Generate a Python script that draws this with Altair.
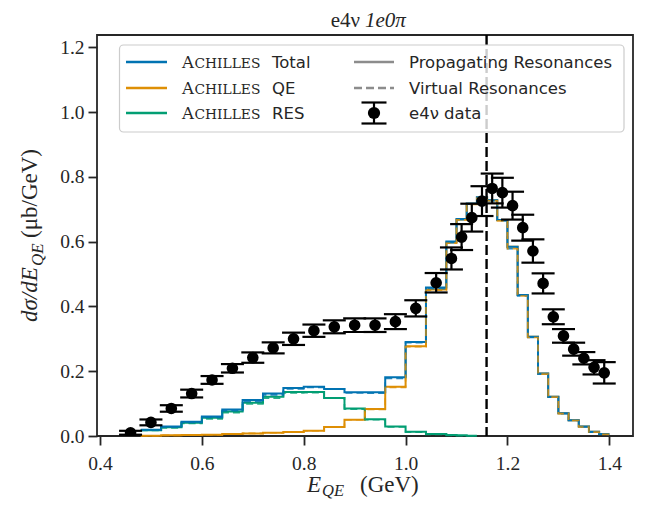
import altair as alt
import pandas as pd

# ---------------- data ----------------
bin_lo = [0.48, 0.52, 0.56, 0.60, 0.64, 0.68, 0.72, 0.76, 0.80, 0.84, 0.88, 0.92,
          0.96, 1.00, 1.04, 1.08, 1.10, 1.12, 1.14, 1.16, 1.18, 1.20, 1.22, 1.24,
          1.26, 1.28, 1.30, 1.32, 1.34, 1.36, 1.38]
bin_end = 1.40

total_prop = [0.019, 0.029, 0.044, 0.060, 0.082, 0.111, 0.131, 0.148, 0.152, 0.145, 0.135, 0.135,
              0.181, 0.290, 0.458, 0.600, 0.670, 0.718, 0.737, 0.728, 0.667, 0.584, 0.435, 0.306,
              0.193, 0.121, 0.070, 0.049, 0.029, 0.013, 0.006]
qe_prop = [0.001, 0.002, 0.003, 0.004, 0.006, 0.008, 0.010, 0.012, 0.016, 0.028, 0.050, 0.083,
           0.152, 0.277, 0.452, 0.597, 0.668, 0.717, 0.736, 0.728, 0.667, 0.584, 0.435, 0.306,
           0.193, 0.121, 0.070, 0.049, 0.029, 0.013, 0.006]
res_prop = [0.018, 0.027, 0.041, 0.056, 0.076, 0.103, 0.121, 0.136, 0.136, 0.117, 0.085, 0.052,
            0.029, 0.013, 0.006, 0.003, 0.002, 0.001]

total_virt = [0.018, 0.027, 0.042, 0.057, 0.078, 0.107, 0.127, 0.145, 0.150, 0.146, 0.133, 0.132,
              0.178, 0.288, 0.455, 0.597, 0.668, 0.716, 0.735, 0.726, 0.664, 0.578, 0.432, 0.304,
              0.191, 0.120, 0.069, 0.048, 0.028, 0.012, 0.005]
qe_virt = [0.001, 0.002, 0.003, 0.004, 0.006, 0.008, 0.010, 0.012, 0.016, 0.028, 0.050, 0.082,
           0.150, 0.276, 0.450, 0.595, 0.667, 0.715, 0.734, 0.726, 0.664, 0.578, 0.432, 0.304,
           0.191, 0.120, 0.069, 0.048, 0.028, 0.012, 0.005]
res_virt = [0.017, 0.025, 0.039, 0.053, 0.072, 0.099, 0.117, 0.133, 0.134, 0.118, 0.083, 0.050,
            0.028, 0.012, 0.005, 0.002, 0.001, 0.001]

data_x = [0.46, 0.50, 0.54, 0.58, 0.62, 0.66, 0.70, 0.74, 0.78, 0.82, 0.86, 0.90, 0.94, 0.98,
          1.02, 1.06, 1.09, 1.11, 1.13, 1.15, 1.17, 1.19, 1.21, 1.23, 1.25, 1.27, 1.29, 1.31,
          1.33, 1.35, 1.37, 1.39]
data_y = [0.010, 0.042, 0.085, 0.131, 0.173, 0.209, 0.242, 0.272, 0.300, 0.325, 0.337, 0.342,
          0.342, 0.353, 0.394, 0.473, 0.548, 0.614, 0.674, 0.725, 0.764, 0.751, 0.711, 0.643,
          0.571, 0.471, 0.368, 0.309, 0.268, 0.240, 0.212, 0.195]
data_err = [0.006, 0.009, 0.010, 0.012, 0.012, 0.013, 0.016, 0.017, 0.019, 0.019, 0.020, 0.021,
            0.021, 0.023, 0.025, 0.030, 0.034, 0.040, 0.043, 0.046, 0.046, 0.046, 0.043, 0.040,
            0.036, 0.031, 0.023, 0.021, 0.020, 0.019, 0.022, 0.033]

beam_energy = [1.159]

x_ticks = [0.4, 0.6, 0.8, 1.0, 1.2, 1.4]
y_ticks = [0.0, 0.2, 0.4, 0.6, 0.8, 1.0, 1.2]

title_main = "e4ν"
title_topo = "1e0π"
legend_sc_first = "A"
legend_sc_rest = "CHILLES"
legend_left = ["Total", "QE", "RES"]
legend_right = ["Propagating Resonances", "Virtual Resonances", "e4ν data"]

# ---------------- styling ----------------
BLUE = "#0173b2"
ORANGE = "#de8f05"
GREEN = "#029e73"
GRAY = "#8c8c8c"
DARK = "#262626"
SERIF = "Liberation Serif"
SANS = "DejaVu Sans"

x_scale = alt.Scale(domain=[0.3941, 1.4465], nice=False, zero=False)
y_scale = alt.Scale(domain=[0.0, 1.2377], nice=False, zero=False)

x_axis = alt.Axis(values=x_ticks, format=".1f", title=None, grid=False, domain=False,
                  tickSize=9, tickWidth=1.8, tickColor=DARK, labelFont=SERIF,
                  labelFontSize=19.5, labelColor=DARK, labelPadding=9, labelFlush=False,
                  labelOverlap=False)
y_axis = alt.Axis(values=y_ticks, format=".1f", title=None, grid=False, domain=False,
                  tickSize=9, tickWidth=1.8, tickColor=DARK, labelFont=SERIF,
                  labelFontSize=19.5, labelColor=DARK, labelPadding=4, labelOverlap=False)


def X(field):
    return alt.X(field, type="quantitative", scale=x_scale, axis=x_axis, title=None)


def Y(field):
    return alt.Y(field, type="quantitative", scale=y_scale, axis=y_axis, title=None)


def step_df(vals):
    n = len(vals)
    end = bin_lo[n] if n < len(bin_lo) else bin_end
    xs = bin_lo[:n] + [end]
    ys = list(vals) + [vals[-1]]
    return pd.DataFrame({"x": xs, "y": ys})


def step_layer(vals, color, dash=None, width=2.0, opacity=1.0):
    kw = dict(interpolate="step-after", color=color, strokeWidth=width, opacity=opacity)
    if dash:
        kw["strokeDash"] = dash
    return alt.Chart(step_df(vals)).mark_line(**kw).encode(x=X("x"), y=Y("y"))


layers = []
layers.append(step_layer(res_prop, GREEN))
layers.append(step_layer(qe_prop, ORANGE))
layers.append(step_layer(total_prop, BLUE))
layers.append(step_layer(res_virt, GREEN, dash=[7, 4], width=1.6, opacity=0.85))
layers.append(step_layer(total_virt, BLUE, dash=[7, 4], width=1.6, opacity=0.85))
layers.append(step_layer(qe_virt, ORANGE, dash=[7, 4], width=1.6, opacity=0.85))

# vertical beam-energy line
layers.append(alt.Chart(pd.DataFrame({"x": beam_energy})).mark_rule(
    color="black", strokeWidth=2.4, strokeDash=[10, 4]).encode(x=X("x")))

# data with error bars
ddf = pd.DataFrame({"x": data_x, "y": data_y, "err": data_err})
ddf["lo"] = ddf["y"] - ddf["err"]
ddf["hi"] = ddf["y"] + ddf["err"]
base = alt.Chart(ddf)
layers.append(base.mark_rule(color="black", strokeWidth=2.2, clip=True).encode(
    x=X("x"), y=Y("lo"), y2="hi"))
layers.append(base.mark_tick(color="black", orient="horizontal", size=23, thickness=2.2,
                             opacity=1, clip=True).encode(x=X("x"), y=Y("lo")))
layers.append(base.mark_tick(color="black", orient="horizontal", size=23, thickness=2.2,
                             opacity=1, clip=True).encode(x=X("x"), y=Y("hi")))
layers.append(base.mark_circle(color="black", size=135, opacity=1, clip=True).encode(
    x=X("x"), y=Y("y")))

one = pd.DataFrame({"d": [0]})

# ---------------- legend (drawn in pixel space) ----------------
layers.append(alt.Chart(one).mark_rect(fill="white", fillOpacity=0.8, stroke="#cccccc",
                                       strokeWidth=1.2, cornerRadius=4).encode(
    x=alt.value(22.5), x2=alt.value(527), y=alt.value(10), y2=alt.value(97)))

rows = [27, 53, 78]
for r, c in zip(rows, [BLUE, ORANGE, GREEN]):
    layers.append(alt.Chart(one).mark_rule(color=c, strokeWidth=2.6).encode(
        x=alt.value(29), x2=alt.value(70), y=alt.value(r)))
layers.append(alt.Chart(one).mark_rule(color=GRAY, strokeWidth=2.6).encode(
    x=alt.value(257), x2=alt.value(297), y=alt.value(rows[0])))
layers.append(alt.Chart(one).mark_rule(color=GRAY, strokeWidth=2.6, strokeDash=[8, 4]).encode(
    x=alt.value(257), x2=alt.value(297), y=alt.value(rows[1])))
# error-bar symbol
layers.append(alt.Chart(one).mark_rule(color="black", strokeWidth=2.2).encode(
    x=alt.value(277), y=alt.value(rows[2] - 10.5), y2=alt.value(rows[2] + 10.5)))
for dy in (-10.5, 10.5):
    layers.append(alt.Chart(one).mark_rule(color="black", strokeWidth=2.2).encode(
        x=alt.value(264.5), x2=alt.value(289.5), y=alt.value(rows[2] + dy)))
layers.append(alt.Chart(one).mark_circle(color="black", size=150, opacity=1).encode(
    x=alt.value(277), y=alt.value(rows[2])))


def txt(s, x, y, size, font, style="normal", angle=0, align="left", baseline="alphabetic",
        color=DARK):
    return alt.Chart(pd.DataFrame({"t": [s]})).mark_text(
        font=font, fontSize=size, fontStyle=style, angle=angle, align=align,
        baseline=baseline, color=color).encode(x=alt.value(x), y=alt.value(y), text="t:N")


for r, lab in zip(rows, legend_left):
    layers.append(txt(legend_sc_first, 85, r + 6, 16.5, "DejaVu Serif"))
    layers.append(txt(legend_sc_rest, 97.5, r + 6, 13.8, "DejaVu Serif"))
    layers.append(txt(lab, 175, r + 6, 16.5, SANS))
for r, lab in zip(rows, legend_right):
    layers.append(txt(lab, 312, r + 6, 16.5, SANS))

# ---------------- titles ----------------
layers.append(txt(title_main, 263, -8, 21, SERIF, align="right"))
layers.append(txt(title_topo, 268, -8, 21, SERIF, style="italic", align="left"))

# x label: E_QE (GeV)
layers.append(txt("E", 210, 457, 23, SERIF, style="italic"))
layers.append(txt("QE", 225, 460.5, 16.5, SERIF, style="italic"))
layers.append(txt("(GeV)", 263, 457, 23, SERIF))

# y label: dσ/dE_QE (μb/GeV)
layers.append(txt("dσ/dE", -60, 287, 23, SERIF, style="italic", angle=270))
layers.append(txt("QE", -54, 231, 17, SERIF, style="italic", angle=270))
layers.append(txt("(μb/GeV)", -60, 203, 23, SERIF, angle=270))

chart = alt.layer(*layers).properties(
    width=536, height=401,
    padding={"left": 89, "top": 27, "right": 16, "bottom": 64},
    autosize="none",
).configure_view(stroke=DARK, strokeWidth=1.8)

chart.save("out.html", embed_options={"renderer": "svg", "actions": False})
